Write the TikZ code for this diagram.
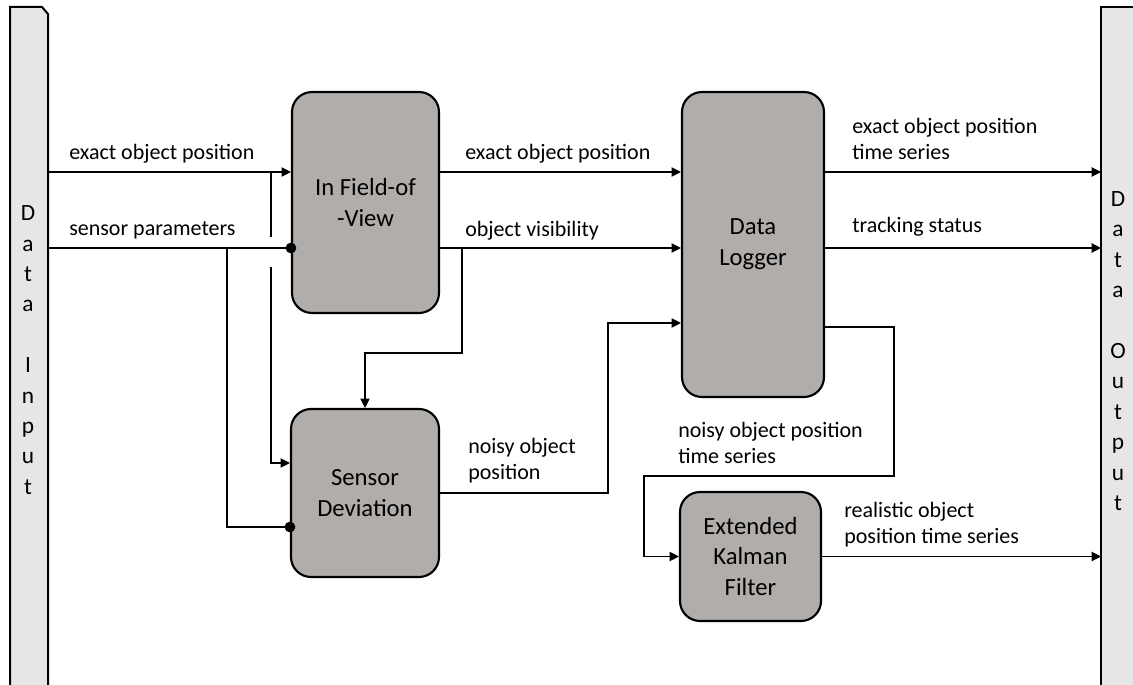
\documentclass[tikz,border=0pt]{standalone}
\usepackage{fontspec}
\setmainfont{Carlito}
\usepackage{tikz}
\usetikzlibrary{positioning,calc,arrows.meta}
\definecolor{boxgray}{RGB}{176,173,171}
\definecolor{bargray}{RGB}{231,229,229}
\tikzset{
  block/.style={draw, line width=1.6pt, rounded corners=15pt, fill=boxgray,
    font=\fontsize{18.5}{23}\selectfont, align=center, inner sep=0pt},
  barbox/.style={draw, line width=1.5pt, fill=bargray},
  bartext/.style={font=\fontsize{17.5}{22.8}\selectfont, align=center, inner sep=0pt},
  flow/.style={line width=0.8pt, -{Triangle[length=7pt,width=7pt]}},
  tap/.style={line width=0.8pt},
  dotlink/.style={line width=0.8pt, -{Circle[length=8pt]}, shorten >=-4pt},
  lbl/.style={font=\fontsize{16.5}{19.5}\selectfont, align=left, inner sep=0pt, anchor=base west}
}
\begin{document}
\begin{tikzpicture}[x=0.75pt,y=-0.75pt]
      \useasboundingbox (0,0) rectangle (1133,685);
      \fill[white] (0,0) rectangle (1133,685);
      \draw[barbox] (10,690) -- (10,7) -- (42,7) -- (48,14) -- (48,690);
      \draw[barbox] (1101,690) -- (1101,7) -- (1140,7) -- (1140,690);
      \node[bartext] (inp) at (28,350) {D\\a\\t\\a\\\mbox{}\\I\\n\\p\\u\\t};
      \node[bartext] (outp) at (1118,351) {D\\a\\t\\a\\\mbox{}\\O\\u\\t\\p\\u\\t};
      \coordinate (in1) at (48,172);
      \coordinate (in2) at (48,248);
      \coordinate (out1) at (1101,172);
      \coordinate (out2) at (1101,248);
      \coordinate (out3) at (1101,556);
      \node[block, minimum width=110.25pt, minimum height=165.75pt] (fov) at (365.5,202.5) {In Field-of\\-View};
      \node[block, minimum width=111pt, minimum height=126pt] (sd) at (365,493) {Sensor\\Deviation};
      \node[block, minimum width=106.5pt, minimum height=228.75pt] (dl) at (753,244.5) {Data\\Logger};
      \node[block, minimum width=105.75pt, minimum height=96.75pt] (ekf) at (750.5,556.5) {Extended\\Kalman\\Filter};
      \draw[flow] (in1) -- (in1 -| fov.west);
      \draw[dotlink] (in2) -- (in2 -| fov.west);
      \draw[tap] (271,172) -- (271,237);
      \draw[flow] (271,267) |- (sd.west |- 0,463);
      \draw[dotlink] (227,248) |- (sd.west |- 0,527);
      \draw[flow] (in1 -| fov.east) -- (in1 -| dl.west);
      \draw[flow] (in2 -| fov.east) -- (in2 -| dl.west);
      \draw[flow] (462,248) -- (462,353) -| (sd.north);
      \draw[flow] (sd.east) -- (608,493) |- (dl.west |- 0,323);
      \draw[flow] (out1 -| dl.east) -- (out1);
      \draw[flow] (out2 -| dl.east) -- (out2);
      \draw[flow] (dl.east |- 0,327) -- (894,327) -- (894,476) -- (644,476) |- (ekf.west);
      \draw[flow] (ekf.east) -- (ekf.east -| out3);
      \node[lbl] (l1) at (69,160) {exact object position};
      \node[lbl] (l2) at (69,235) {sensor parameters};
      \node[lbl] (l3) at (465,160) {exact object position};
      \node[lbl] (l4) at (465,236) {object visibility};
      \node[lbl] (l5) at (468,479) {noisy object\\position};
      \node[lbl] (l6) at (852,160) {exact object position\\time series};
      \node[lbl] (l7) at (852,232) {tracking status};
      \node[lbl] (l8) at (678,463) {noisy object position\\time series};
      \node[lbl] (l9) at (844,543) {realistic object\\position time series};
    \end{tikzpicture}
\end{document}
